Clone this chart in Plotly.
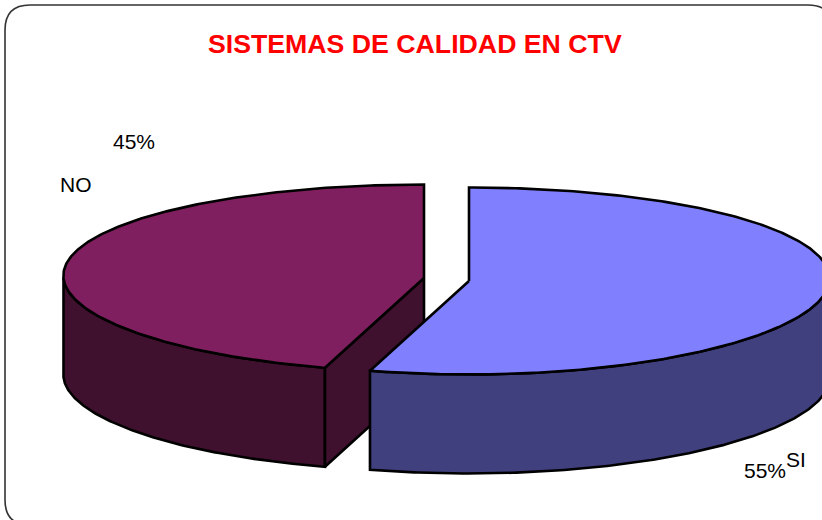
import numpy as np
import plotly.graph_objects as go

# Data
categories = ["SI", "NO"]
values = [6, 5]
title = "SISTEMAS DE CALIDAD EN CTV"

# Colours
top_colors = {"SI": "#8080FF", "NO": "#801F5F"}
side_colors = {"SI": "#40407F", "NO": "#40102F"}

# Drawing geometry (pixel-like axes)
W, H = 822, 520
RX, RY, DEPTH = 360.5, 93.5, 99
SKEW = 0.026  # slight foreshortening of the front of the disc
CENTERS = {"SI": (469, 281), "NO": (424, 278)}
LW = 2.6
INK = "#000000"

total = sum(values)
split = 360 * values[0] / total
spans = {"SI": (0, split), "NO": (split, 360)}


def ell(name, deg):
    cx, cy = CENTERS[name]
    t = np.radians(deg)
    return cx + RX * np.sin(t) * (1 + SKEW * np.cos(t)), cy - RY * np.cos(t)


def arc(name, a, b, n=160):
    return ell(name, np.linspace(a, b, n))


def poly(xs, ys, color):
    return go.Scatter(x=list(xs), y=list(ys), mode="lines", fill="toself",
                      fillcolor=color, line=dict(color=INK, width=LW, shape="linear"),
                      hoverinfo="skip", showlegend=False)


def side(name, a, b):
    x, y = arc(name, a, b)
    return poly(np.r_[x, x[::-1], x[0]], np.r_[y, y[::-1] + DEPTH, y[0]], side_colors[name])


def top(name):
    a, b = spans[name]
    cx, cy = CENTERS[name]
    x, y = arc(name, a, b, 300)
    return poly(np.r_[cx, x, cx], np.r_[cy, y, cy], top_colors[name])


fig = go.Figure()

# NO slice: outer wall, cut wall, top
fig.add_trace(side("NO", split, 270))
cx, cy = CENTERS["NO"]
ex, ey = ell("NO", split)
fig.add_trace(poly([cx, ex, ex, cx, cx], [cy, ey, ey + DEPTH, cy + DEPTH, cy], side_colors["NO"]))
fig.add_trace(top("NO"))

# SI slice: outer wall, top
fig.add_trace(side("SI", 90, split))
fig.add_trace(top("SI"))

pct = {c: f"{round(100 * v / total)}%" for c, v in zip(categories, values)}
label_font = dict(family="Liberation Sans, Arial, sans-serif", size=21, color="#000000")


def label(text, x, y):
    return dict(x=x, y=y, xref="x", yref="y", text=text, showarrow=False,
                xanchor="center", yanchor="middle", font=label_font)


annotations = [
    dict(x=415, y=44, xref="x", yref="y", text=f"<b>{title}</b>", showarrow=False,
         xanchor="center", yanchor="middle",
         font=dict(family="Liberation Sans, Arial, sans-serif", size=26.7, color="#FF0000")),
    label(pct["NO"], 134, 141),
    label("NO", 76, 184),
    label(pct["SI"], 765, 470),
    label("SI", 796, 459),
]

frame = "M 30 5 L 808 5 Q 833 5 833 30 L 833 500 Q 833 525 808 525 L 30 525 Q 5 525 5 500 L 5 30 Q 5 5 30 5 Z"

fig.update_layout(
    width=W, height=H, margin=dict(l=0, r=0, t=0, b=0),
    paper_bgcolor="#FFFFFF", plot_bgcolor="#FFFFFF", showlegend=False,
    xaxis=dict(range=[0, W], visible=False, fixedrange=True),
    yaxis=dict(range=[H, 0], visible=False, fixedrange=True),
    annotations=annotations,
    shapes=[dict(type="path", path=frame, xref="x", yref="y", layer="below",
                 line=dict(color="#333333", width=1.6))],
)

fig.write_html("out.html", config={"displayModeBar": False},
               post_script="document.body.style.margin='0';document.body.style.overflow='hidden';")
